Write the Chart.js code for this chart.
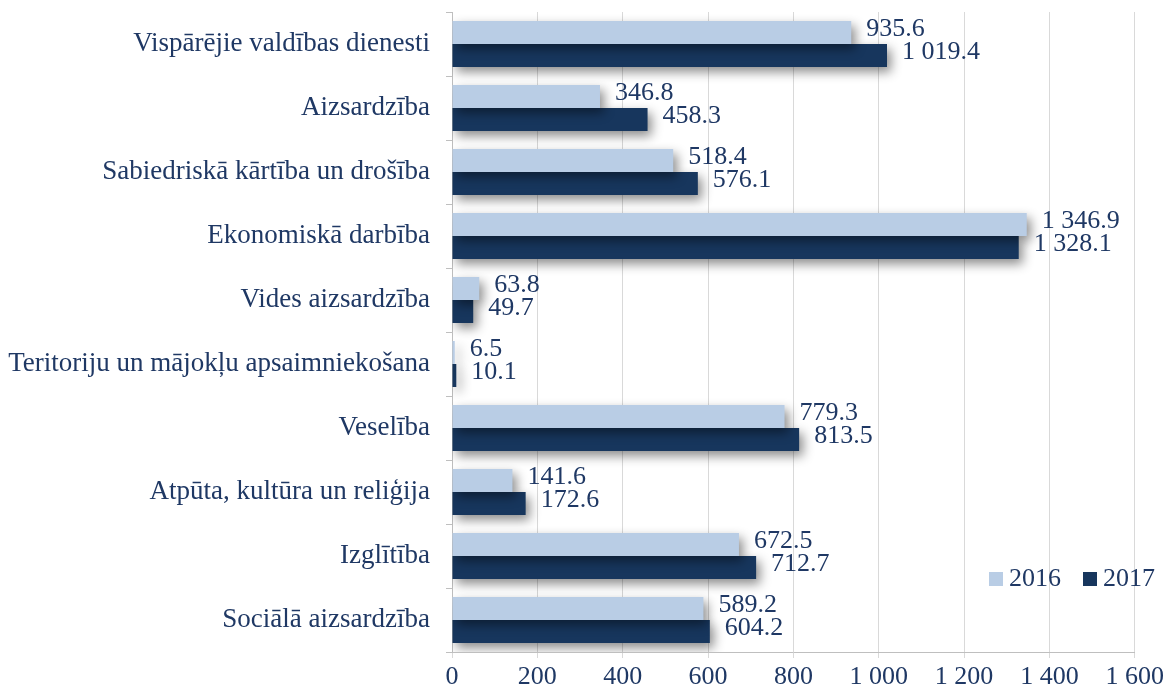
<!DOCTYPE html>
<html>
<head>
<meta charset="utf-8">
<script src="https://cdn.jsdelivr.net/npm/chart.js@4"></script>
<style>
html,body{margin:0;padding:0;background:#fff;}
#wrap{width:1168px;height:687px;position:relative;}
</style>
</head>
<body>
<div id="wrap"><canvas id="c" width="1168" height="687"></canvas></div>
<script>
const categories = [
  "Vispārējie valdības dienesti",
  "Aizsardzība",
  "Sabiedriskā kārtība un drošība",
  "Ekonomiskā darbība",
  "Vides aizsardzība",
  "Teritoriju un mājokļu apsaimniekošana",
  "Veselība",
  "Atpūta, kultūra un reliģija",
  "Izglītība",
  "Sociālā aizsardzība"
];
const values2016 = [935.6, 346.8, 518.4, 1346.9, 63.8, 6.5, 779.3, 141.6, 672.5, 589.2];
const values2017 = [1019.4, 458.3, 576.1, 1328.1, 49.7, 10.1, 813.5, 172.6, 712.7, 604.2];
const seriesNames = ["2016", "2017"];
const xTicks = [0, 200, 400, 600, 800, 1000, 1200, 1400, 1600];

const TEXT = '#1f3864';
const LIGHT = '#b9cde5';
const DARK = '#17365d';
const FONT = "'Liberation Serif', 'Times New Roman', serif";

function fmt(v, dec) {
  const s = dec ? v.toFixed(1) : String(Math.round(v));
  const parts = s.split('.');
  parts[0] = parts[0].replace(/\B(?=(\d{3})+(?!\d))/g, ' ');
  return parts.join('.');
}

const shadowPlugin = {
  id: 'shadow',
  beforeDatasetsDraw(chart) {
    const ctx = chart.ctx;
    ctx.save();
    ctx.shadowColor = 'rgba(0,0,0,0.45)';
    ctx.shadowBlur = 11;
    ctx.shadowOffsetX = 4;
    ctx.shadowOffsetY = 5;
  },
  afterDatasetsDraw(chart) {
    chart.ctx.restore();
  }
};

const labelPlugin = {
  id: 'valLabels',
  afterDatasetsDraw(chart) {
    const ctx = chart.ctx;
    ctx.save();
    ctx.shadowColor = 'transparent';
    ctx.font = '26px ' + FONT;
    ctx.fillStyle = TEXT;
    ctx.textAlign = 'left';
    ctx.textBaseline = 'middle';
    chart.data.datasets.forEach((ds, i) => {
      const meta = chart.getDatasetMeta(i);
      meta.data.forEach((el, j) => {
        ctx.fillText(fmt(ds.data[j], true), el.x + 15, el.y - 3);
      });
    });
    ctx.restore();
  }
};

const legendPlugin = {
  id: 'customLegend',
  afterDraw(chart) {
    const ctx = chart.ctx;
    ctx.save();
    ctx.font = '26px ' + FONT;
    ctx.textBaseline = 'middle';
    ctx.textAlign = 'left';
    const items = [
      {x: 989, color: LIGHT, label: seriesNames[0]},
      {x: 1083, color: DARK, label: seriesNames[1]}
    ];
    const cy = 579;
    items.forEach(it => {
      ctx.fillStyle = it.color;
      ctx.fillRect(it.x, cy - 7, 14, 14);
      ctx.fillStyle = TEXT;
      ctx.fillText(it.label, it.x + 20, cy);
    });
    ctx.restore();
  }
};

new Chart(document.getElementById('c'), {
  type: 'bar',
  data: {
    labels: categories,
    datasets: [
      {label: seriesNames[0], data: values2016, backgroundColor: LIGHT, borderWidth: 0,
       categoryPercentage: 0.72, barPercentage: 1.0},
      {label: seriesNames[1], data: values2017, backgroundColor: DARK, borderWidth: 0,
       categoryPercentage: 0.72, barPercentage: 1.0}
    ]
  },
  options: {
    indexAxis: 'y',
    responsive: false,
    animation: false,
    layout: {padding: {top: 12, right: 31, left: 0, bottom: 0}},
    plugins: {legend: {display: false}, tooltip: {enabled: false}},
    scales: {
      x: {
        min: 0, max: 1600,
        afterBuildTicks(scale) { scale.ticks = xTicks.map(v => ({value: v})); },
        afterFit(scale) { scale.height = 35; },
        grid: {color: '#d9d9d9', lineWidth: 1, drawTicks: true, tickLength: 6, tickColor: '#d9d9d9'},
        border: {display: true, color: '#bfbfbf'},
        ticks: {
          color: TEXT, font: {family: FONT, size: 26}, padding: 4,
          callback: v => fmt(v, false), maxRotation: 0, autoSkip: false
        }
      },
      y: {
        afterFit(scale) { scale.width = 452; scale.paddingTop = 0; scale.paddingBottom = 0; },
        grid: {display: true, offset: true, drawOnChartArea: false, drawTicks: true, tickLength: 6, color: '#bfbfbf'},
        border: {display: true, color: '#bfbfbf'},
        ticks: {color: TEXT, font: {family: FONT, size: 27}, padding: 16, autoSkip: false}
      }
    }
  },
  plugins: [shadowPlugin, labelPlugin, legendPlugin]
});
</script>
</body>
</html>
